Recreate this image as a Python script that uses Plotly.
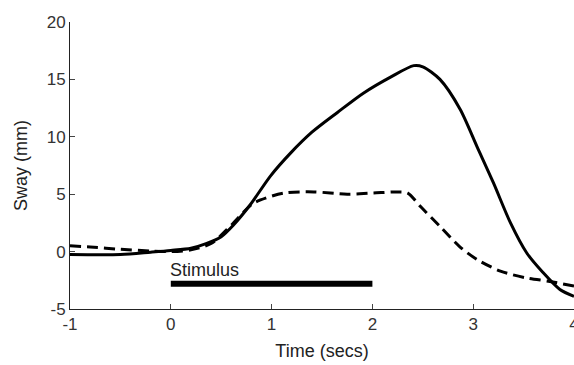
import plotly.graph_objects as go

# Solid trace
solid_x = [-1, -0.5, -0.2, 0, 0.2, 0.35, 0.5, 0.62, 0.79, 0.99, 1.19, 1.4, 1.65, 1.91, 2.18, 2.41, 2.5, 2.67, 2.87, 3.04, 3.2, 3.37, 3.53, 3.69, 3.86, 4.0]
solid_y = [-0.25, -0.25, -0.05, 0.1, 0.3, 0.7, 1.3, 2.3, 4.1, 6.6, 8.6, 10.4, 12.1, 13.8, 15.2, 16.2, 16.1, 15.0, 12.4, 9.1, 6.0, 2.5, -0.1, -1.8, -3.3, -3.9]

# Dashed trace
dashed_x = [-1, -0.8, -0.5, -0.2, 0, 0.2, 0.4, 0.6, 0.8, 0.89, 1.12, 1.42, 1.75, 2.01, 2.25, 2.35, 2.48, 2.67, 2.87, 3.04, 3.27, 3.53, 3.76, 4.0]
dashed_y = [0.5, 0.4, 0.2, 0.05, 0.0, 0.15, 0.7, 2.3, 4.1, 4.5, 5.1, 5.2, 5.0, 5.1, 5.2, 5.1, 3.9, 2.2, 0.4, -0.7, -1.7, -2.3, -2.6, -3.0]

# Stimulus bar
stim_x = [0, 2]
stim_y = [-2.8, -2.8]
stim_label = "Stimulus"

x_ticks = [-1, 0, 1, 2, 3, 4]
x_ticktext = ["-1", "0", "1", "2", "3", "4"]
y_ticks = [-5, 0, 5, 10, 15, 20]
y_ticktext = ["-5", "0", "5", "10", "15", "20"]

fam = "Liberation Sans, Arial, sans-serif"
tick_font = dict(family=fam, size=17, color="#333")
title_font = dict(family=fam, size=18, color="#222")
label_font = dict(family=fam, size=18, color="#222")

fig = go.Figure()
fig.add_trace(go.Scatter(x=solid_x, y=solid_y, mode="lines",
                         line=dict(color="black", width=3, shape="spline", smoothing=0.8),
                         showlegend=False, hoverinfo="skip"))
fig.add_trace(go.Scatter(x=dashed_x, y=dashed_y, mode="lines",
                         line=dict(color="black", width=3, dash="11px,6px", shape="spline", smoothing=0.8),
                         showlegend=False, hoverinfo="skip"))
fig.add_trace(go.Scatter(x=stim_x, y=stim_y, mode="lines",
                         line=dict(color="black", width=6),
                         showlegend=False, hoverinfo="skip"))
fig.add_annotation(x=stim_x[0], y=-1.6, text=stim_label, showarrow=False,
                   xanchor="left", yanchor="middle", xshift=-3, font=label_font)

fig.update_layout(
    width=574, height=365,
    margin=dict(l=70, r=0, t=22, b=56),
    paper_bgcolor="white", plot_bgcolor="white",
    xaxis=dict(range=[-1, 4], tickvals=x_ticks, ticktext=x_ticktext,
               ticks="inside", ticklen=5, ticklabeloverflow="allow", automargin=False,
               showline=True, linecolor="#222", linewidth=1, showgrid=False,
               zeroline=False, title=dict(text="Time (secs)", standoff=10, font=title_font),
               tickfont=tick_font),
    yaxis=dict(range=[-5, 20], tickvals=y_ticks, ticktext=y_ticktext,
               ticks="inside", ticklen=5, automargin=False,
               showline=True, linecolor="#222", linewidth=1, showgrid=False,
               zeroline=False, title=dict(text="Sway (mm)", standoff=14, font=title_font),
               tickfont=tick_font),
)

fig.write_html("out.html")
